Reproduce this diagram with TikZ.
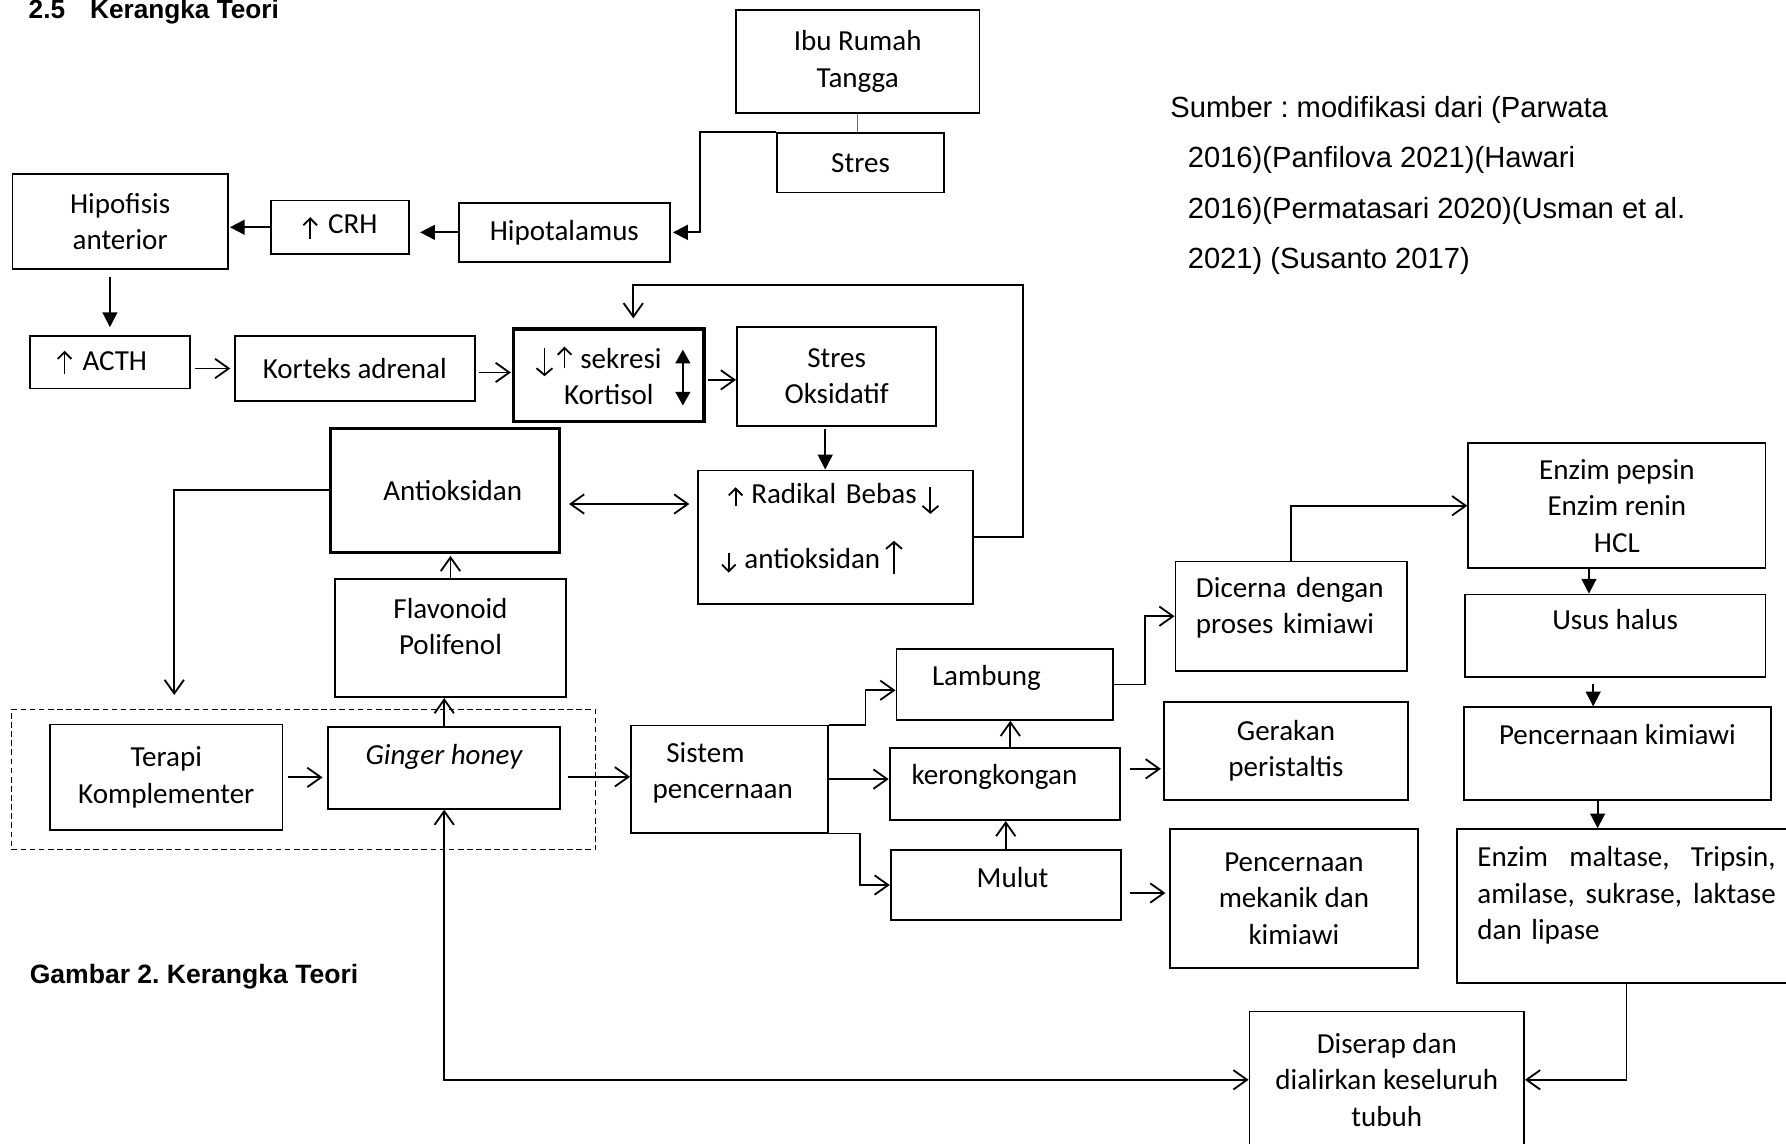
\documentclass[tikz,border=0pt]{standalone}
\usepackage{fontspec}
\setmainfont{Carlito}
\newfontfamily\arialfont{Liberation Sans}
\usetikzlibrary{arrows.meta}
\definecolor{tickblue}{RGB}{68,114,196}
\newcommand{\naik}[3][12pt]{\tikz[baseline=0pt]\draw[line width=1.6pt,-{Straight Barb[length=6pt,width=#1]}] (0pt,#2) -- (0pt,#3);}
\newcommand{\turun}[3][12pt]{\tikz[baseline=0pt]\draw[line width=1.6pt,-{Straight Barb[length=6pt,width=#1]}] (0pt,#3) -- (0pt,#2);}

\begin{document}
\frenchspacing
\begin{tikzpicture}[x=1pt,y=-1pt,
  box/.style={draw,line width=1.6pt,inner sep=0pt,align=center,font=\fontsize{25.5}{32}\selectfont},
  boldbox/.style={box,line width=3pt},
  grp/.style={draw,line width=1pt,dash pattern=on 5pt off 3pt,inner sep=0pt},
  oarr/.style={line width=1.6pt,-{Straight Barb[length=12pt,width=17pt]}},
  oarrb/.style={line width=1.6pt,{Straight Barb[length=12pt,width=17pt]}-{Straight Barb[length=12pt,width=17pt]}},
  farr/.style={line width=1.6pt,-{Triangle[length=13pt,width=13pt]}}]
	\useasboundingbox (0,0) rectangle (1568,1004);
	\clip (0,0) rectangle (1568,1004);

	\node[anchor=base west,inner sep=0pt,font=\arialfont\bfseries\fontsize{23}{28}\selectfont] (judul) at (25,16.5) {2.5\hspace{22pt}Kerangka Teori};
	\node[anchor=north west,inner sep=0pt,align=left,font=\arialfont\fontsize{25.6}{44.4}\selectfont] (sumber) at (1027.3,84.2) {Sumber : modifikasi dari (Parwata\\\hspace*{15.3pt}2016)(Panfilova 2021)(Hawari\\\hspace*{15.3pt}2016)(Permatasari 2020)(Usman et al.\\\hspace*{15.3pt}2021) (Susanto 2017)};
	\node[anchor=base west,inner sep=0pt,font=\arialfont\bfseries\fontsize{23.3}{28}\selectfont] (gambar) at (26,863.3) {Gambar 2. Kerangka Teori};

	\node[box,minimum width=214pt,minimum height=90pt] (ibu) at (753,54) {Ibu Rumah\\Tangga};
	\node[box,minimum width=147pt,minimum height=52pt] (stres) at (755.5,143) {Stres};
	\node[box,minimum width=185pt,minimum height=52pt] (hipot) at (495.5,204) {Hipotalamus};
	\node[box,minimum width=121pt,minimum height=47pt] (crh) at (298.5,199.5) {\naik{-4.5pt}{14.5pt}\hspace{9pt}CRH};
	\node[box,minimum width=189pt,minimum height=83pt] (hipof) at (105.5,194.5) {Hipofisis\\anterior};
	\node[box,minimum width=141pt,minimum height=46pt] (acth) at (96.5,318) {\naik{-3pt}{17pt}\hspace{9pt}ACTH\hspace*{14pt}};
	\node[box,minimum width=211pt,minimum height=57pt] (korteks) at (311.5,323.5) {Korteks adrenal};
	\node[boldbox,minimum width=167pt,minimum height=81pt] (sekresi) at (534.5,329.5) {\turun[14pt]{-7pt}{18pt}\hspace{3pt}\naik{0pt}{19pt}\hspace{7pt}sekresi\hspace*{18pt}\\Kortisol};
	\node[box,minimum width=175pt,minimum height=87pt] (oks) at (734.5,330.5) {Stres\\Oksidatif};
	\node[box,text width=201pt,inner xsep=20pt,align=left,minimum height=117pt] (radikal) at (733.5,471.5) {\hspace*{6pt}\naik{-2.4pt}{14.4pt}\hspace{7pt}Radikal Bebas\,\turun[14pt]{-9pt}{14.4pt}\\[21pt]\turun{-3.3pt}{14.4pt}\hspace{7pt}antioksidan\,\naik[14pt]{-4.4pt}{24.7pt}\\[-13pt]\mbox{}};
	\node[boldbox,minimum width=201pt,minimum height=109pt] (antiok) at (390.5,430.5) {\hspace*{14pt}Antioksidan};
	\node[box,minimum width=203pt,minimum height=104pt] (flav) at (395.5,560) {Flavonoid\\Polifenol\\[-12pt]\mbox{}};

	\node[grp,minimum width=513pt,minimum height=123pt] (komp) at (266.5,684.5) {};
	\node[box,minimum width=204pt,minimum height=93pt] (terapi) at (146,682.5) {Terapi\\Komplementer};
	\node[box,minimum width=204pt,minimum height=72pt,text height=17pt,text depth=23pt] (ginger) at (390,674) {\textit{Ginger honey}};
	\node[box,text width=135pt,inner xsep=19pt,align=left,minimum height=94pt] (sistem) at (640.5,684) {\hspace*{12pt}Sistem\\pencernaan\\[-16.5pt]\mbox{}};

	\node[box,minimum width=190pt,minimum height=62pt,text height=17pt,text depth=15pt] (lambung) at (882,601) {Lambung\hspace*{32pt}};
	\node[box,minimum width=202pt,minimum height=63pt,text height=17pt,text depth=16pt] (kerong) at (882,688.5) {kerongkongan\hspace*{18pt}};
	\node[box,minimum width=202pt,minimum height=62pt,text height=17pt,text depth=13pt] (mulut) at (883,777) {\hspace*{12pt}Mulut};

	\node[box,text width=167pt,inner xsep=18pt,align=left,minimum height=96pt] (dicerna) at (1133.5,541) {Dicerna dengan\\proses kimiawi\\[-13.5pt]\mbox{}};
	\node[box,minimum width=214pt,minimum height=86pt] (gerakan) at (1129,659) {Gerakan\\peristaltis};
	\node[box,minimum width=218pt,minimum height=122pt] (pencmek) at (1136,789) {Pencernaan\\mekanik dan\\kimiawi};

	\node[box,minimum width=261pt,minimum height=110pt] (pepsin) at (1419.5,444) {Enzim pepsin\\Enzim renin\\HCL};
	\node[box,minimum width=264pt,minimum height=72pt,text height=17pt,text depth=27pt] (usus) at (1418,558) {Usus halus};
	\node[box,minimum width=270pt,minimum height=81pt,text height=17pt,text depth=32pt] (pkim) at (1420,661.5) {Pencernaan kimiawi};
	\node[box,text width=262pt,inner xsep=18pt,align=left,minimum height=135pt] (maltase) at (1428,795.5) {Enzim\hfill maltase,\hfill Tripsin,\\amilase,\hfill sukrase,\hfill laktase\\dan lipase\\[-9.5pt]\mbox{}};
	\node[box,minimum width=241pt,minimum height=120pt] (diserap) at (1217.5,948) {Diserap dan\\dialirkan keseluruh\\tubuh};

	\draw[line width=1.6pt,{Triangle[length=12pt,width=13pt]}-{Triangle[length=12pt,width=13pt]}] ([xshift=-20pt,yshift=22.5pt]sekresi.east) -- ([xshift=-20pt,yshift=-26.5pt]sekresi.east);

	\draw[tickblue,line width=0.8pt] (ibu.south) -- (ibu.south |- stres.north);
	\draw[farr,shorten >=2pt] (stres.north west) -- ++(-67,0) |- (hipot.east);
	\draw[farr,shorten >=9pt] (hipot.west) -- (hipot.west -| crh.east);
	\draw[farr,shorten >=1pt] (crh.west) -- (crh.west -| hipof.east);
	\draw[farr,shorten <=6pt,shorten >=7pt] (acth.north |- hipof.south) -- (acth.north);
	\draw[oarr,shorten <=3pt,shorten >=3pt] (acth.east |- korteks.west) -- (korteks.west);
	\draw[oarr,shorten <=3pt,shorten >=1pt] ([yshift=-3.5pt]korteks.east) -- ([yshift=-3.5pt]korteks.east -| sekresi.west);
	\draw[oarr,shorten <=2pt] ([yshift=-4pt]sekresi.east) -- ([yshift=-4pt]sekresi.east -| oks.west);
	\draw[farr,shorten <=2pt] ([xshift=-10pt]oks.south) -- ([xshift=-10pt]oks.south |- radikal.north);
	\coordinate (balik) at (556,250);
	\draw[oarr,shorten >=8pt] (radikal.east) -- ++(43,0) |- (balik) -- (balik |- sekresi.north);
	\draw[oarrb,shorten <=7pt,shorten >=7pt] ([yshift=-12pt]antiok.east) -- ([yshift=-12pt]antiok.east -| radikal.west);
	\draw[oarr,shorten >=25pt] (antiok.west) -| ([xshift=7pt]terapi.north);
	\draw[oarr,shorten >=1.5pt] (flav.north) -- (flav.north |- antiok.south);
	\draw[oarr] (ginger.north) -- (ginger.north |- flav.south);
	\draw[oarr,shorten <=4pt,shorten >=4pt] (terapi.east) -- (terapi.east -| ginger.west);
	\draw[oarr,shorten <=6pt] ([yshift=-8pt]ginger.east) -- ([yshift=-8pt]ginger.east -| sistem.west);
	\draw[oarrb] (ginger.south) |- (diserap.west);

	\draw[oarr] (sistem.north east) -- ++(32,0) |- ([yshift=-5pt]lambung.west);
	\draw[oarr] (sistem.east) -- (sistem.east -| kerong.west);
	\draw[oarr] (sistem.south east) -- ++(27,0) |- (mulut.west);
	\draw[oarr] (mulut.north) -- (mulut.north |- kerong.south);
	\draw[oarr] ([xshift=5pt]kerong.north) -- ([xshift=5pt]kerong.north |- lambung.south);
	\draw[oarr,shorten <=8pt,shorten >=2pt] ([yshift=13.5pt]kerong.east) -- ([yshift=13.5pt]kerong.east -| gerakan.west);
	\draw[oarr,shorten <=7pt,shorten >=3pt] ([yshift=-7pt]mulut.east) -- ([yshift=-7pt]mulut.east -| pencmek.west);
	\draw[oarr] (lambung.east) -- ++(27.5,0) |- (dicerna.west);
	\draw[oarr] (dicerna.north) |- (pepsin.west);

	\draw[farr] ([xshift=-24.5pt]pepsin.south) -- ([xshift=-24.5pt]pepsin.south |- usus.north);
	\draw[farr,shorten <=6pt] ([xshift=-19.3pt]usus.south) -- ([xshift=-19.3pt]usus.south |- pkim.north);
	\draw[farr] ([xshift=-17.4pt]pkim.south) -- ([xshift=-17.4pt]pkim.south |- maltase.north);
	\draw[oarr] (maltase.south) |- (diserap.east);
\end{tikzpicture}
\end{document}
